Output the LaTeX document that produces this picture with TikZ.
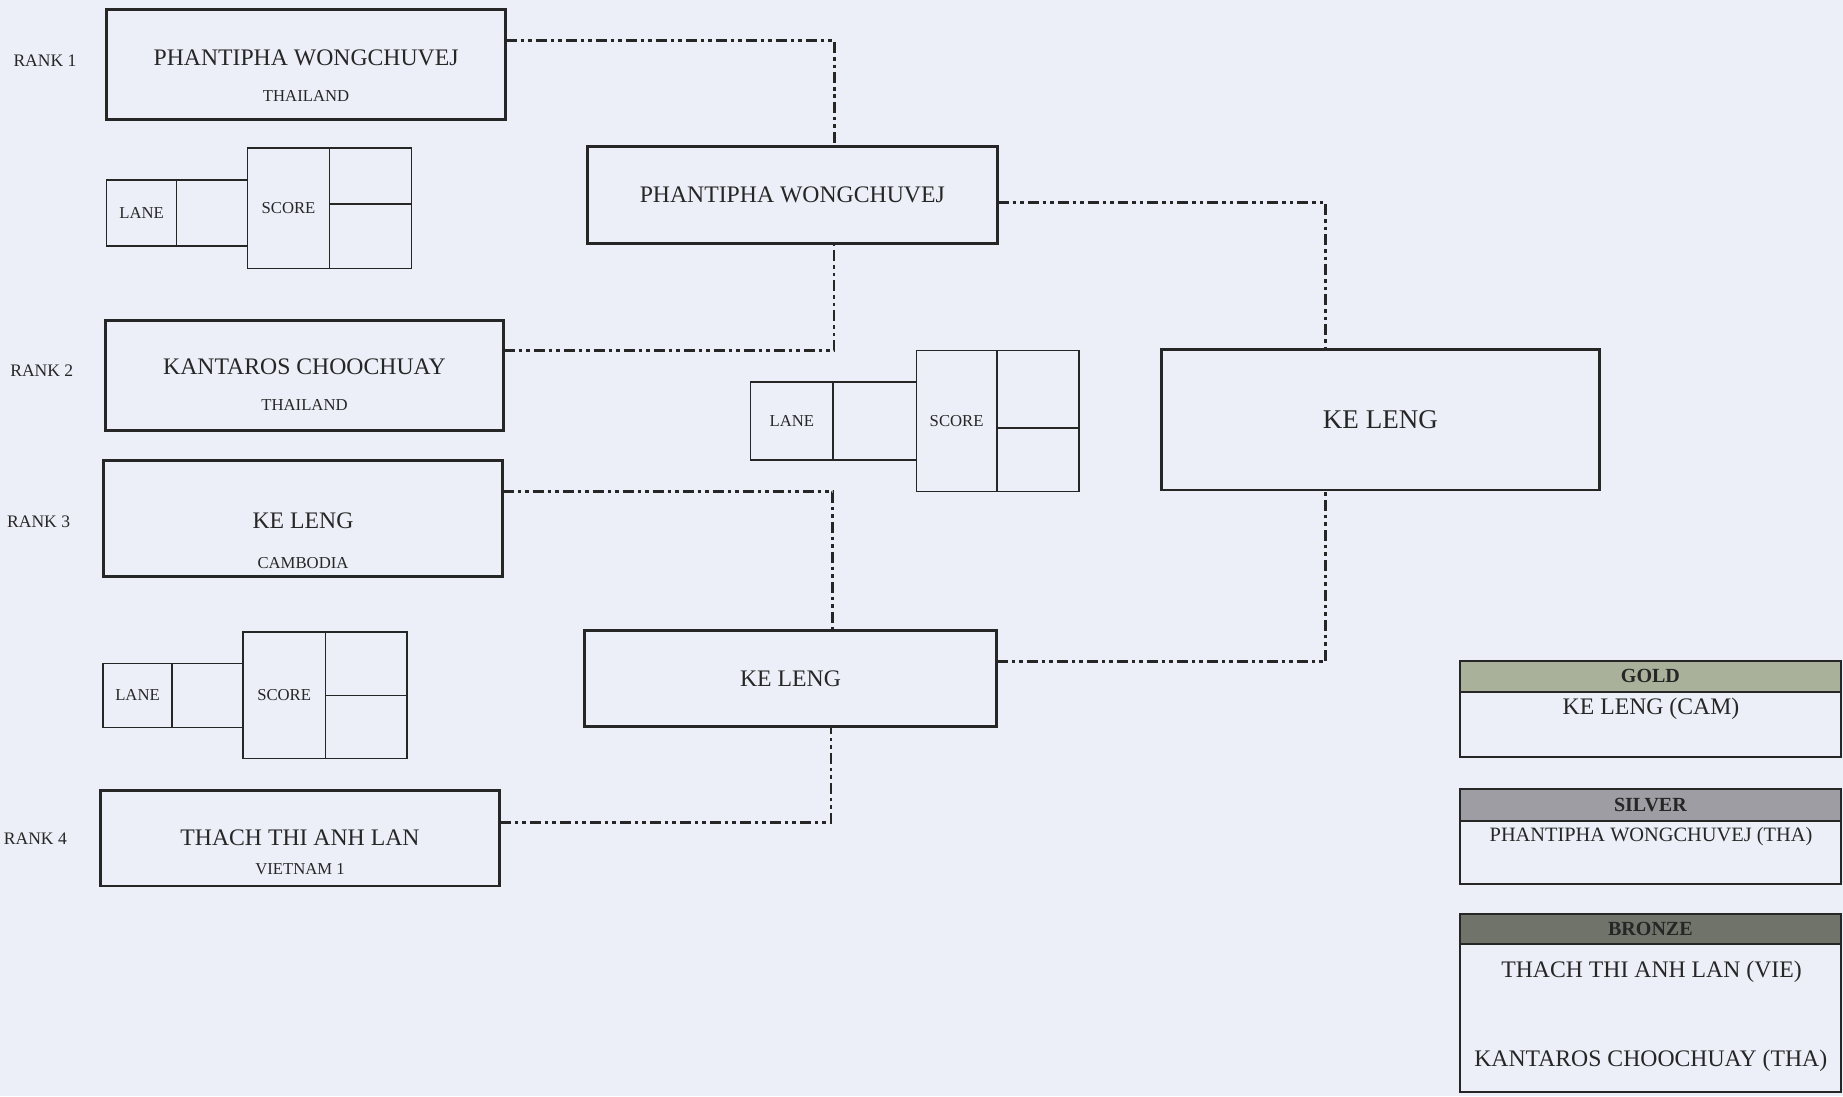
\documentclass[tikz,border=0pt]{standalone}
\usepackage{fontspec}
\setmainfont{Liberation Serif}
\usepackage{tikz}
\usetikzlibrary{positioning}
\definecolor{paper}{HTML}{EDEFF8}
\definecolor{ink}{HTML}{262626}
\definecolor{goldbar}{HTML}{A9B19B}
\definecolor{silverbar}{HTML}{9D9DA3}
\definecolor{bronzebar}{HTML}{70736A}

\begin{document}
\begin{tikzpicture}[x=0.02cm,y=-0.02cm,thick,color=ink]
\tikzstyle{player}=[draw=ink, line width=1.7pt, inner sep=0pt, outer sep=0pt]
\tikzstyle{cell}=[draw=ink, line width=0.9pt, inner sep=0pt, outer sep=0pt, font=\fontsize{9.5}{11}\selectfont]
\tikzstyle{big}=[font=\fontsize{13.5}{16}\selectfont]
\tikzstyle{small}=[font=\fontsize{9.5}{11}\selectfont]
\tikzstyle{rank}=[anchor=west, inner sep=0pt, font=\fontsize{10}{12}\selectfont]
\tikzstyle{link}=[line width=1.6pt, dash pattern=on 0.22cm off 0.08cm on 0.07cm off 0.08cm on 0.07cm off 0.08cm]
\tikzstyle{medal}=[draw=ink, line width=1.1pt, inner sep=0pt, outer sep=0pt, minimum width=7.61cm]
\tikzstyle{medalhead}=[medal, font=\fontsize{11.4}{13}\selectfont\bfseries]

\fill[paper] (0,0) rectangle (1843,1096);

% first round
\node[player, minimum width=7.98cm, minimum height=2.2cm] (r1) at (306.1,64.5) {};
\node[big] (r1n) at (306.1,58) {PHANTIPHA WONGCHUVEJ};
\node[small] (r1c) at (306.1,96) {THAILAND};
\node[rank] (r1l) at (12.8,61) {RANK 1};

\node[player, minimum width=7.97cm, minimum height=2.19cm] (r2) at (304.5,375.4) {};
\node[big] (r2n) at (304.5,366.7) {KANTAROS CHOOCHUAY};
\node[small] (r2c) at (304.5,405) {THAILAND};
\node[rank] (r2l) at (9.6,371) {RANK 2};

\node[player, minimum width=7.99cm, minimum height=2.31cm] (r3) at (303,518.3) {};
\node[big] (r3n) at (303,521) {KE LENG};
\node[small] (r3c) at (303,562.7) {CAMBODIA};
\node[rank] (r3l) at (6.4,521.7) {RANK 3};

\node[player, minimum width=8cm, minimum height=1.92cm] (r4) at (300,838) {};
\node[big] (r4n) at (300,837.7) {THACH THI ANH LAN};
\node[small] (r4c) at (300,869) {VIETNAM 1};
\node[rank] (r4l) at (3.2,839) {RANK 4};

% lane / score, top
\node[cell, minimum width=1.404cm, minimum height=1.32cm] (la1) at (141.6,213) {LANE};
\node[cell, minimum width=1.414cm, minimum height=1.32cm, right=0pt of la1] (lb1) {};
\node[cell, minimum width=1.646cm, minimum height=2.414cm, right=0pt of lb1, yshift=0.094cm] (sc1) {SCORE};
\node[cell, minimum width=1.634cm, minimum height=1.12cm, anchor=north west] (su1) at (sc1.north east) {};
\node[cell, minimum width=1.634cm, minimum height=1.294cm, below=0pt of su1] (sd1) {};

% lane / score, middle
\node[cell, minimum width=1.654cm, minimum height=1.566cm] (la2) at (791.9,420.9) {LANE};
\node[cell, minimum width=1.664cm, minimum height=1.566cm, right=0pt of la2] (lb2) {};
\node[cell, minimum width=1.608cm, minimum height=2.82cm, right=0pt of lb2] (sc2) {SCORE};
\node[cell, minimum width=1.642cm, minimum height=1.552cm, anchor=north west] (su2) at (sc2.north east) {};
\node[cell, minimum width=1.642cm, minimum height=1.268cm, below=0pt of su2] (sd2) {};

% lane / score, bottom
\node[cell, minimum width=1.39cm, minimum height=1.28cm] (la3) at (137.5,695.3) {LANE};
\node[cell, minimum width=1.416cm, minimum height=1.28cm, right=0pt of la3] (lb3) {};
\node[cell, minimum width=1.646cm, minimum height=2.532cm, right=0pt of lb3] (sc3) {SCORE};
\node[cell, minimum width=1.632cm, minimum height=1.272cm, anchor=north west] (su3) at (sc3.north east) {};
\node[cell, minimum width=1.632cm, minimum height=1.26cm, below=0pt of su3] (sd3) {};

% semi finals and final
\node[player, big, minimum width=8.21cm, minimum height=1.94cm] (sf1) at (792.3,195) {PHANTIPHA WONGCHUVEJ};
\node[player, big, minimum width=8.25cm, minimum height=1.93cm] (sf2) at (790.5,678.7) {KE LENG};
\node[player, font=\fontsize{15.4}{18}\selectfont, minimum width=8.77cm, minimum height=2.82cm] (fin) at (1380.4,419.5) {KE LENG};

\coordinate (j1) at (834.2,40.7);
\coordinate (j2) at (834,350.7);
\coordinate (j3) at (832.7,491.7);
\coordinate (j4) at (831,822.7);
\coordinate (j5) at (1325.7,202.3);
\coordinate (j6) at (1325.7,661.7);
\draw[link] (r1.east |- j1) -- (j1) -- (j1 |- sf1.north);
\draw[link] (r2.east |- j2) -- (j2) -- (j2 |- sf1.south);
\draw[link] (r3.east |- j3) -- (j3) -- (j3 |- sf2.north);
\draw[link] (r4.east |- j4) -- (j4) -- (j4 |- sf2.south);
\draw[link] (sf1.east |- j5) -- (j5) -- (j5 |- fin.north);
\draw[link] (sf2.east |- j6) -- (j6) -- (j6 |- fin.south);

% medals
\node[medalhead, fill=goldbar, minimum height=0.62cm] (gh) at (1650.4,676.2) {GOLD};
\node[medal, minimum height=1.3cm, below=0pt of gh] (gb) {};
\node[big] (gn) at (1651,708.3) {KE LENG (CAM)};

\node[medalhead, fill=silverbar, minimum height=0.64cm] (sh) at (1650.4,805) {SILVER};
\node[medal, minimum height=1.26cm, below=0pt of sh] (sb) {};
\node[font=\fontsize{11.6}{14}\selectfont] (sn) at (1651,836.7) {PHANTIPHA WONGCHUVEJ (THA)};

\node[medalhead, fill=bronzebar, minimum height=0.606cm] (bh) at (1650.4,929.2) {BRONZE};
\node[medal, minimum height=2.96cm, below=0pt of bh] (bb) {};
\node[big] (bn1) at (1651.5,971.7) {THACH THI ANH LAN (VIE)};
\node[big] (bn2) at (1650.8,1060.7) {KANTAROS CHOOCHUAY (THA)};
\end{tikzpicture}
\end{document}
